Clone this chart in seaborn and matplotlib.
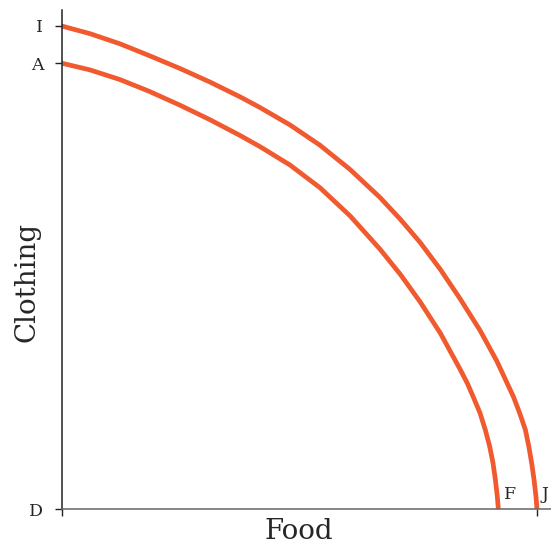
import pandas as pd
import matplotlib
matplotlib.use('Agg')
import matplotlib.pyplot as plt
import seaborn as sns

# points (food, clothing)
outer_food = [0, 5.9, 12.1, 18.3, 24.5, 30.7, 37.0, 41.1, 47.3, 53.5, 59.7, 65.9, 70.1,
              74.2, 78.4, 82.5, 86.6, 90.1, 93.5, 94.8, 96.0, 96.7, 97.3, 97.8, 98.2, 98.4]
outer_clothing = [100, 98.4, 96.3, 93.8, 91.2, 88.4, 85.3, 83.1, 79.5, 75.3, 70.3, 64.5, 60.0,
                  55.2, 49.6, 43.5, 37.0, 30.6, 23.3, 19.9, 16.4, 13.0, 9.5, 6.0, 2.5, 0]
inner_food = [0, 5.9, 12.1, 18.3, 24.5, 30.7, 37.0, 41.1, 47.3, 53.5, 59.7, 65.9, 70.1,
              74.2, 78.4, 82.5, 84.0, 85.3, 86.6, 87.7, 88.6, 89.3, 89.8, 90.2, 90.4]
inner_clothing = [92.3, 90.9, 88.9, 86.4, 83.6, 80.6, 77.3, 75.0, 71.2, 66.5, 60.7, 53.8, 48.6,
                  42.9, 36.4, 28.9, 26.0, 23.0, 19.9, 16.4, 13.0, 9.5, 6.0, 2.5, 0]

y_ticks = [0, 92.3, 100]
y_tick_labels = ['D', 'A', 'I']
x_ticks = [0, 98.4]
x_point_labels = ['F', 'J']
x_point_pos = [91.6, 99.4]

line_color = '#f15a2e'

sns.set_style('white')
plt.rcParams['font.family'] = ['DejaVu Serif']

df = pd.concat([
    pd.DataFrame({'food': outer_food, 'clothing': outer_clothing, 'curve': 'outer'}),
    pd.DataFrame({'food': inner_food, 'clothing': inner_clothing, 'curve': 'inner'}),
])

fig = plt.figure(figsize=(5.51, 5.45), dpi=100)
ax = fig.add_axes([61.5 / 551, 36 / 545, 489.5 / 551, 499 / 545])

sns.lineplot(data=df, x='food', y='clothing', units='curve', estimator=None, sort=False,
             color=line_color, linewidth=3.4, ax=ax, legend=False)
for line in ax.lines:
    line.set_solid_joinstyle('round')
    line.set_solid_capstyle('butt')

ax.set_xlim(0, 101.3)
ax.set_ylim(0, 103.3)
sns.despine(ax=ax)
ax.spines['left'].set_color('#222222')
ax.spines['bottom'].set_color('#666666')
ax.spines['left'].set_linewidth(1.1)
ax.spines['bottom'].set_linewidth(1.1)

ax.set_yticks(y_ticks)
ax.set_yticklabels(y_tick_labels, fontsize=12.5)
ax.set_xticks(x_ticks)
ax.set_xticklabels(['', ''])
ax.tick_params(axis='both', direction='out', length=5, width=1, color='#222222', pad=8)
ax.tick_params(axis='y', left=True)
ax.tick_params(axis='x', bottom=True)

for lbl, xp in zip(x_point_labels, x_point_pos):
    ax.text(xp, 1.2, lbl, fontsize=12.5, ha='left', va='bottom', clip_on=False)

ax.set_xlabel('Food', fontsize=20)
ax.set_ylabel('Clothing', fontsize=20)
ax.xaxis.set_label_coords(0.485, -0.018)
ax.yaxis.set_label_coords(-0.042, 0.455)

fig.savefig('out.png', dpi=100)
